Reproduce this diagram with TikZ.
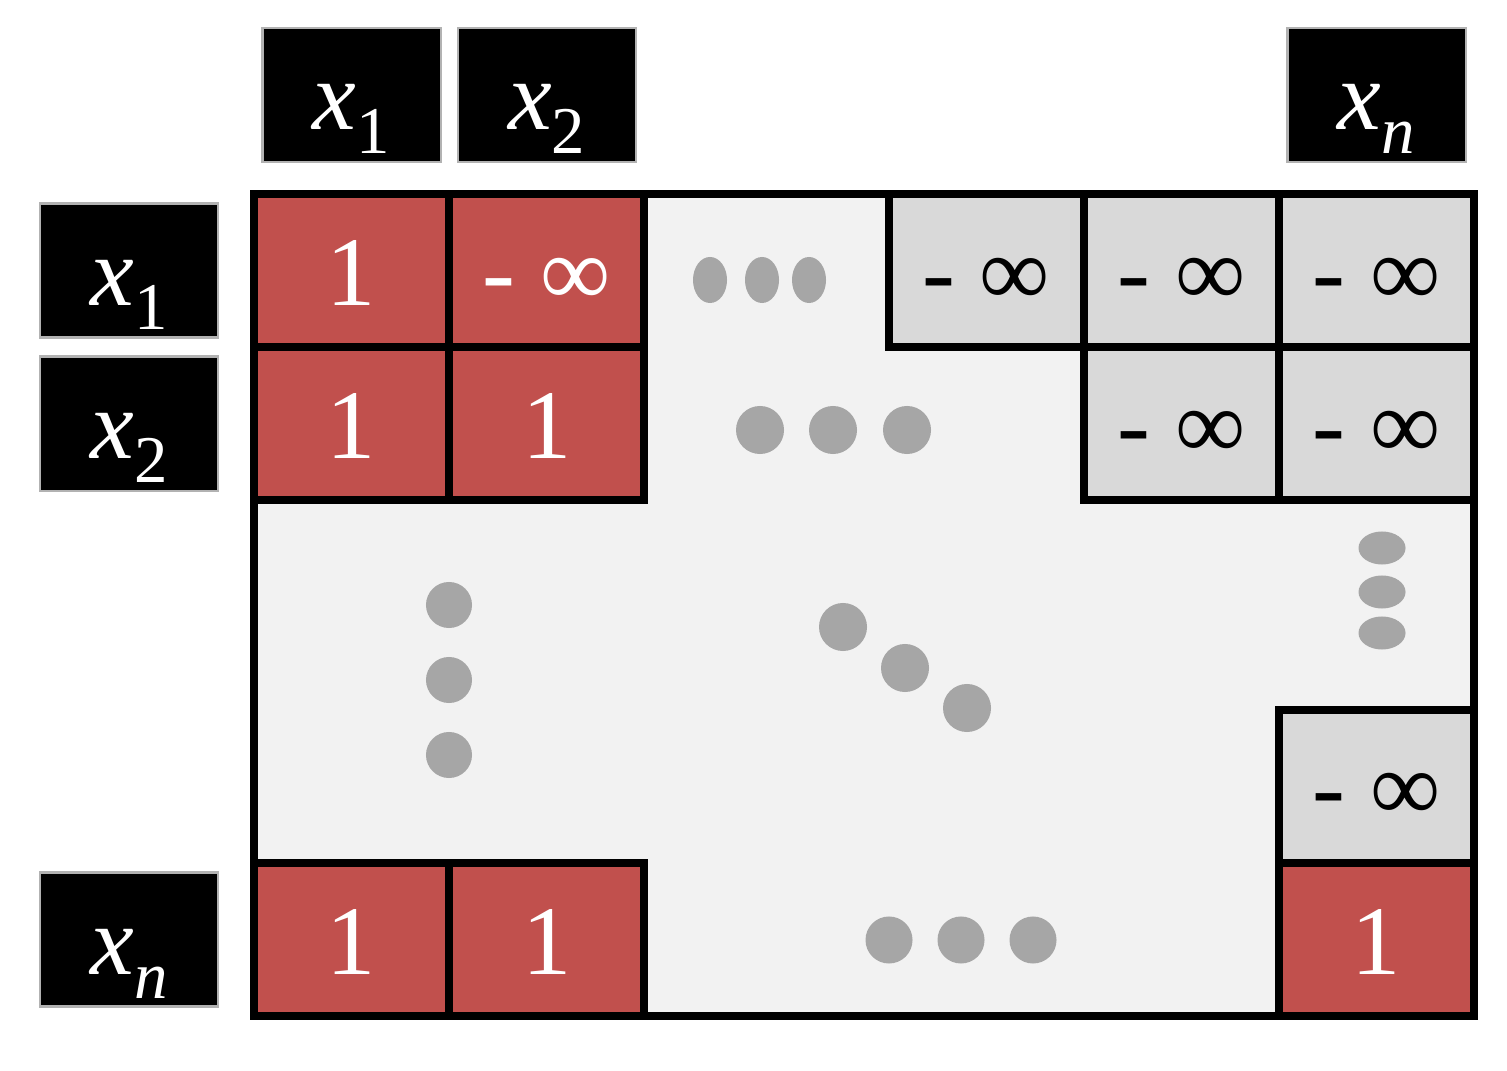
\documentclass[tikz,border=0pt]{standalone}
\usepackage{fontspec}
\setmainfont{Liberation Serif}
\usepackage{xcolor}
\usetikzlibrary{positioning}
\usetikzlibrary{backgrounds}
\definecolor{cellred}{RGB}{193,80,77}
\definecolor{cellgray}{RGB}{217,217,217}
\definecolor{boardgray}{RGB}{242,242,242}
\definecolor{dotgray}{RGB}{166,166,166}
\newcommand{\cellfont}{\fontsize{28}{32}\selectfont}
\newcommand{\xsub}[1]{\textit{x}\raisebox{-0.24em}{\fontsize{19}{19}\selectfont #1}}
\def\ninfty{- ∞}
\tikzset{
cell/.style={draw=black, line width=0.08cm, minimum width=1.95cm, minimum height=1.53cm,
	inner sep=0pt, outer sep=0pt, text height=0.69cm, text depth=0cm, font=\cellfont},
one/.style={cell, fill=cellred, text=white},
ninf/.style={cell, fill=cellgray, text=black},
head/.style={fill=black, draw=gray!60, line width=0.6pt, text=white, minimum width=1.78cm,
	minimum height=1.34cm, inner sep=0pt, outer sep=0pt, text height=0.7cm, text depth=0cm,
	font=\cellfont},
board/.style={draw=black, line width=0.08cm, fill=boardgray},
dot/.style={fill=dotgray},
}

\begin{document}
\begin{tikzpicture}[x=0.01cm, y=-0.01cm]
\useasboundingbox (0,0) rectangle (1507,1071);
%Place the cells
\node[one] (11) at (351.5,270.5) {1};
\node[one, right=0cm of 11] (12) {\ninfty};
\node[one, below=0cm of 11] (21) {1};
\node[one, right=0cm of 21] (22) {1};

\node[ninf] (1n) at (1376.5,270.5) {\ninfty};
\node[ninf, left=0cm of 1n] (1m) {\ninfty};
\node[ninf, left=0cm of 1m] (1l) {\ninfty};
\node[ninf, below=0cm of 1n] (2n) {\ninfty};
\node[ninf, below=0cm of 1m] (2m) {\ninfty};

\node[one] (nn) at (1376.5,939.5) {1};
\node[ninf, above=0cm of nn] (mn) {\ninfty};
\node[one] (n1) at (11 |- nn) {1};
\node[one, right=0cm of n1] (n2) {1};

%Headers
\node[head, above=0.32cm of 11] (t1) {\xsub{1}};
\node[head, above=0.32cm of 12] (t2) {\xsub{2}};
\node[head, above=0.32cm of 1n] (tn) {\xsub{\textit{n}}};
\node[head, left=0.36cm of 11] (l1) {\xsub{1}};
\node[head, left=0.36cm of 21] (l2) {\xsub{2}};
\node[head, left=0.36cm of n1] (ln) {\xsub{\textit{n}}};

\begin{scope}[on background layer]
\draw[board] (11.north west) rectangle (nn.south east);
\end{scope}

%Dots
\foreach \x in {710,762,809}
	\fill[dot] (\x,280) ellipse [x radius=0.17cm, y radius=0.23cm];
\foreach \x in {760,833,907}
	\fill[dot] (\x,430) circle [radius=0.24cm];
\foreach \y in {605,680,755}
	\fill[dot] (449,\y) circle [radius=0.23cm];
\foreach \x/\y in {843/627, 905/668, 967/708}
	\fill[dot] (\x,\y) circle [radius=0.24cm];
\foreach \y in {548,592,633}
	\fill[dot] (1382,\y) ellipse [x radius=0.235cm, y radius=0.165cm];
\foreach \x in {889,961,1033}
	\fill[dot] (\x,940) circle [radius=0.235cm];

\end{tikzpicture}
\end{document}
